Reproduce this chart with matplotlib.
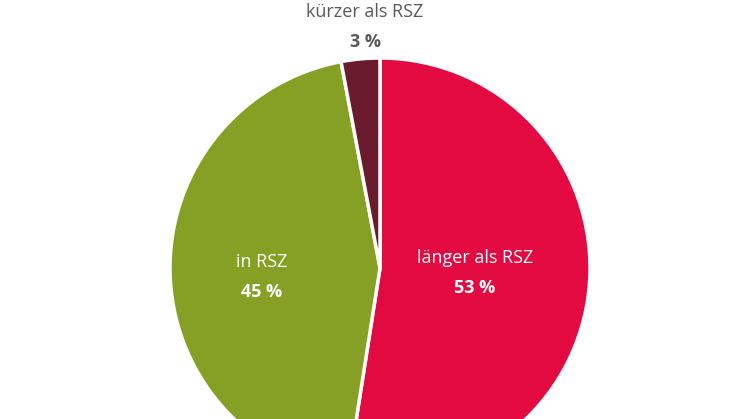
import matplotlib
matplotlib.use("Agg")
import matplotlib.pyplot as plt

labels = ["länger als RSZ", "in RSZ", "kürzer als RSZ"]
values = [53, 45, 3]
colors = ["#E30A41", "#85A025", "#6B1B2E"]

W, H = 746, 419
cx, cy, R = 380, 268, 210
fig = plt.figure(figsize=(W/100, H/100), dpi=100)
ax = fig.add_axes([0, 0, 1, 1])
ax.pie(values, colors=colors, startangle=90, counterclock=False, radius=1,
       wedgeprops=dict(edgecolor="white", linewidth=2.5))
ax.set_xlim(-cx/R, (W-cx)/R)
ax.set_ylim(-(H-cy)/R, cy/R)
ax.set_aspect("equal")
ax.axis("off")

def px(x, y):
    return (x-cx)/R, (cy-y)/R

fam = "Open Sans"
pos = [(475, 258), (262, 262), (365, 12)]
tcol = ["white", "white", "#595959"]
for (x, y), lab, v, c in zip(pos, labels, values, tcol):
    X, Y = px(x, y)
    ax.text(X, Y, lab, ha="center", va="center", fontsize=13, color=c, family=fam)
    X2, Y2 = px(x, y + 30)
    ax.text(X2, Y2, f"{v} %", ha="center", va="center", fontsize=13, color=c,
            family=fam, fontweight="bold")

fig.savefig("out.png", dpi=100)
